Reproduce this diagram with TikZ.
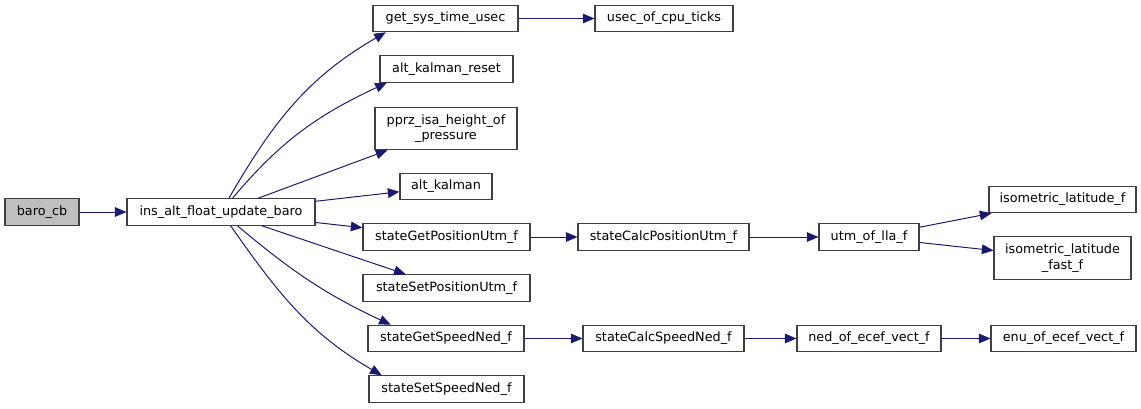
\documentclass[tikz,border=0pt]{standalone}
\usepackage{fontspec}
\setmainfont{DejaVu Sans}
\usetikzlibrary{arrows.meta}
\definecolor{edgeblue}{HTML}{191970}
\definecolor{boxline}{HTML}{404040}
\definecolor{rootgray}{HTML}{BFBFBF}

\begin{document}
\begin{tikzpicture}[
    x=0.025cm, y=0.025cm,
    font=\fontsize{9.1}{11}\selectfont,
    fn/.style={draw=boxline, line width=0.75pt, fill=white, inner sep=0pt, align=center, minimum height=26.5*0.025cm},
    fntwo/.style={fn, minimum height=42.5*0.025cm},
    boxw/.style={minimum width=#1*0.025cm},
    root/.style={fn, fill=rootgray},
    call/.style={edgeblue, line width=0.7pt, -{Triangle[length=0.29cm, width=0.24cm]}}
]
% 1 unit = one pixel of the 1141 x 408 frame, y runs downwards as negative
\useasboundingbox (0,0) rectangle (1141,-408);

% -------- caller and its direct callees --------
\node[root, boxw=74]  (baro)      at (42,-212)    {baro\_cb};
\node[fn, boxw=188]   (ins)       at (221,-212)   {ins\_alt\_float\_update\_baro};
\node[fn, boxw=145]   (sysTime)   at (445.5,-18.5) {get\_sys\_time\_usec};
\node[fn, boxw=133]   (kalReset)  at (446.5,-69)  {alt\_kalman\_reset};
\node[fntwo, boxw=142] (isaHeight) at (446,-128.5) {pprz\_isa\_height\_of\\\_pressure};
\node[fn, boxw=92]    (kalman)    at (446,-186.5) {alt\_kalman};
\node[fn, boxw=167]   (getPos)    at (446.5,-237) {stateGetPositionUtm\_f};
\node[fn, boxw=167]   (setPos)    at (446.5,-288) {stateSetPositionUtm\_f};
\node[fn, boxw=156]   (getSpeed)  at (446,-338.5) {stateGetSpeedNed\_f};
\node[fn, boxw=155]   (setSpeed)  at (446.5,-389) {stateSetSpeedNed\_f};

% -------- deeper levels --------
\node[fn, boxw=138]   (cpuTicks)  at (664,-18.5)  {usec\_of\_cpu\_ticks};
\node[fn, boxw=171]   (calcPos)   at (663.5,-237) {stateCalcPositionUtm\_f};
\node[fn, boxw=161]   (calcSpeed) at (663.5,-338.5) {stateCalcSpeedNed\_f};
\node[fn, boxw=100]   (utm)       at (869,-237)   {utm\_of\_lla\_f};
\node[fn, boxw=144]   (nedEcef)   at (869,-338.5) {ned\_of\_ecef\_vect\_f};
\node[fn, boxw=147]   (isoLat)    at (1062.5,-199.5) {isometric\_latitude\_f};
\node[fntwo, boxw=137] (isoFast)  at (1062.5,-258) {isometric\_latitude\\\_fast\_f};
\node[fn, boxw=145]   (enuEcef)   at (1063.5,-338.5) {enu\_of\_ecef\_vect\_f};

% -------- call edges --------
% straight ones
\foreach \a/\b in {baro/ins, ins/isaHeight, ins/kalman, ins/getPos, ins/setPos,
                   sysTime/cpuTicks, getPos/calcPos, calcPos/utm, utm/isoLat, utm/isoFast,
                   getSpeed/calcSpeed, calcSpeed/nedEcef, nedEcef/enuEcef}
    \draw[call] (\a) -- (\b);
% bent ones fanning out of the top and bottom of ins
\draw[call] (ins) to[out=60, in=210] (sysTime.193);
\draw[call] (ins) to[out=50, in=205] (kalReset.193);
\draw[call] (ins) to[out=-40, in=155] (getSpeed.166);
\draw[call] (ins) to[out=-55, in=150] (setSpeed.168);

\end{tikzpicture}
\end{document}
